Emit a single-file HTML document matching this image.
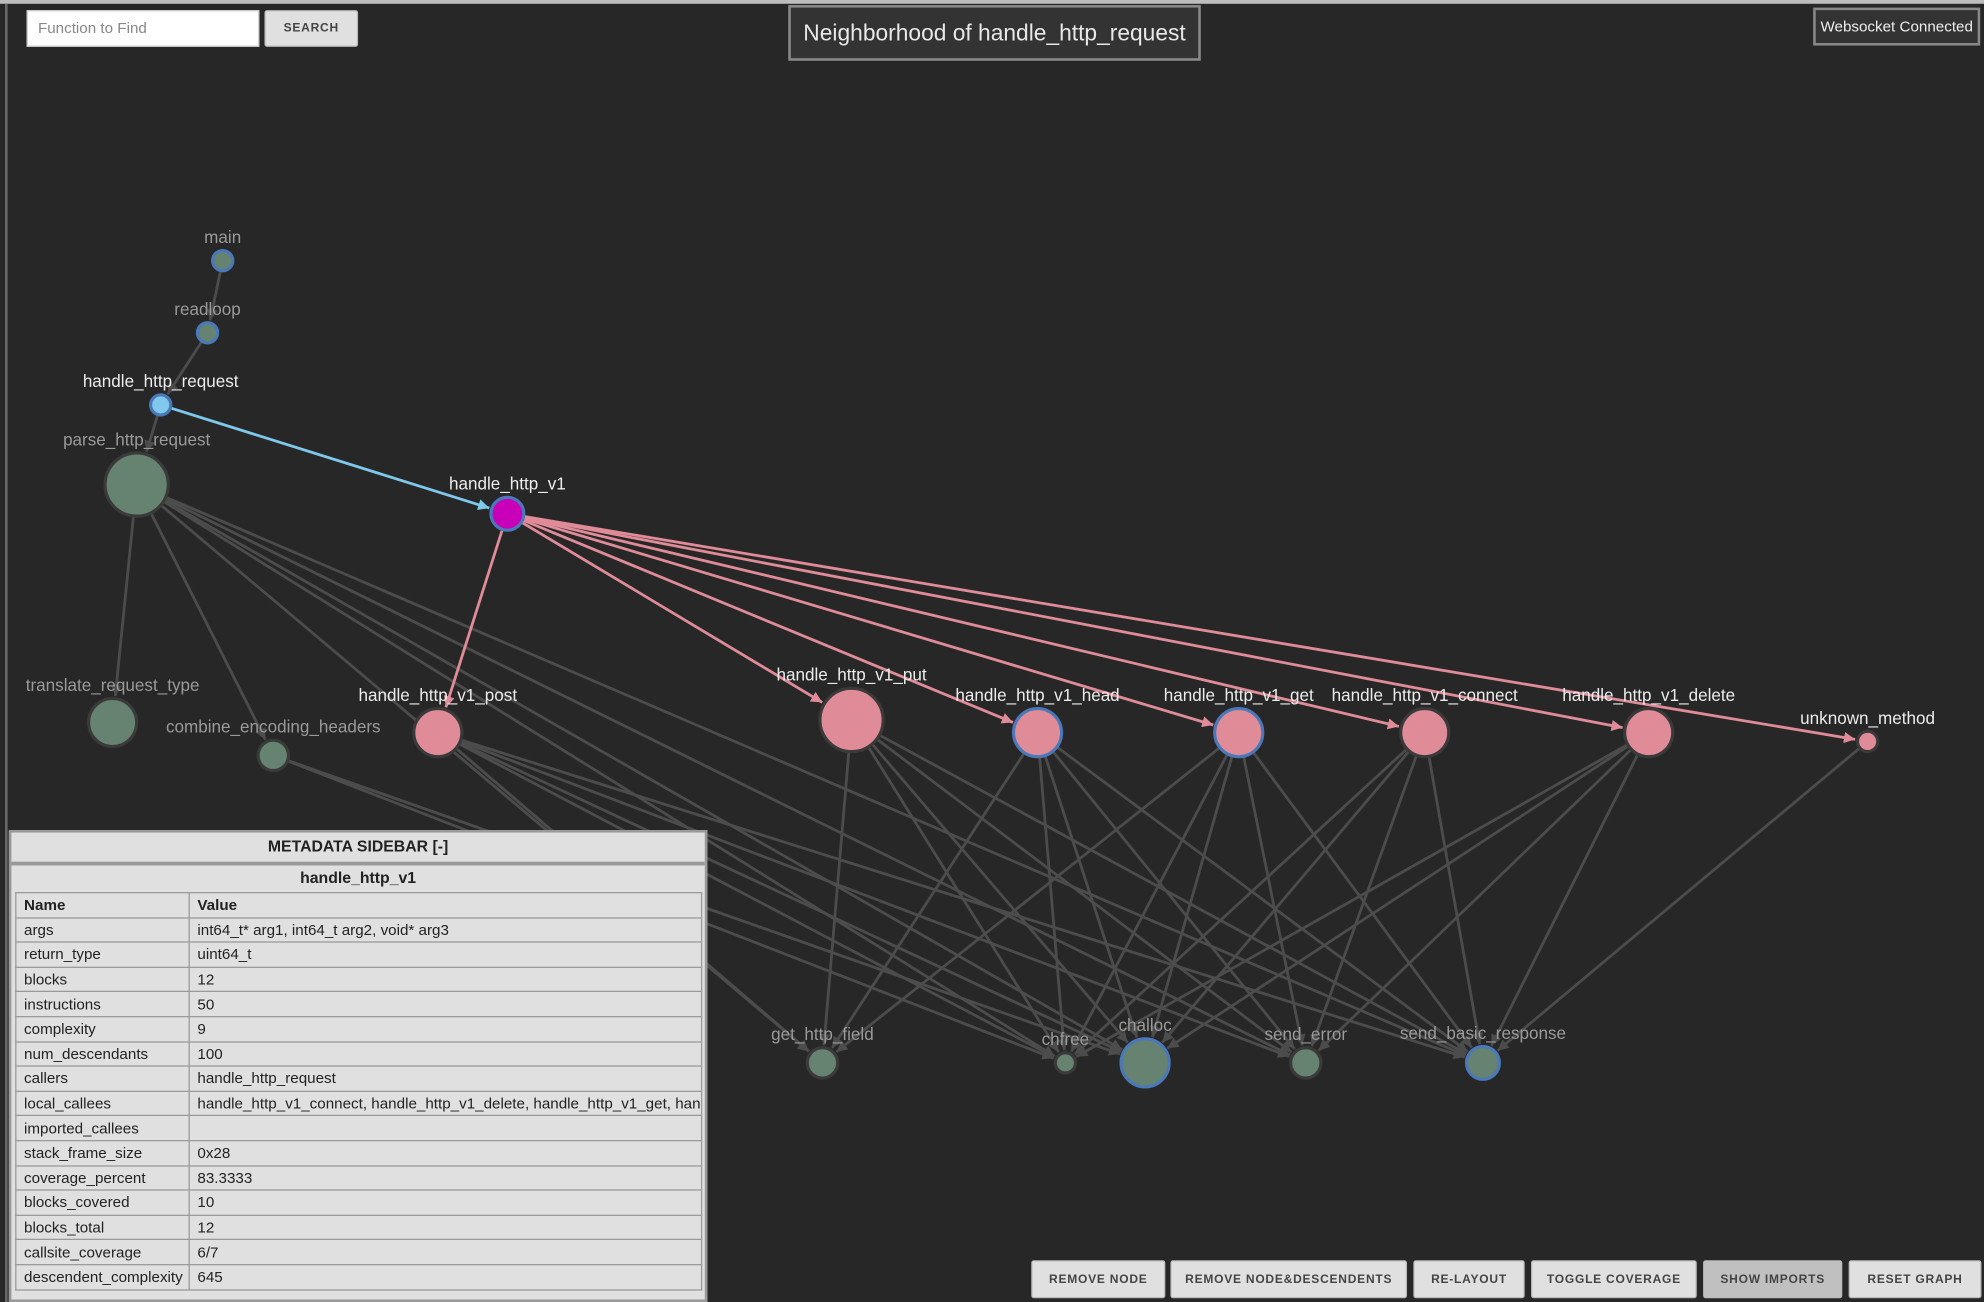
<!DOCTYPE html>
<html><head><meta charset="utf-8">
<style>
html,body{margin:0;padding:0;width:1984px;height:1302px;overflow:hidden;background:#272727;font-family:"Liberation Sans",sans-serif;}
#wrap{position:absolute;left:0;top:0;width:1568px;height:1029px;transform:scale(1.265306);transform-origin:0 0;background:#272727;}
#topline{position:absolute;left:0;top:0;width:1568px;height:3px;background:#bdbdbd;}
#leftline{position:absolute;left:4px;top:3px;width:2px;height:1026px;background:#6a6a6a;}
svg{position:absolute;left:0;top:0;}
.inp{position:absolute;left:21px;top:8px;width:184px;height:29px;background:#fff;border:1px solid #ccc;box-sizing:border-box;font-size:12px;color:#888;padding:6px 8px;}
.btn{position:absolute;background:#e0e0e0;border:1px solid #bbb;border-radius:2px;box-sizing:border-box;font-size:9.5px;font-weight:bold;color:#444;letter-spacing:.6px;display:flex;align-items:center;justify-content:center;}
#title{position:absolute;left:623px;top:4px;width:326px;height:44px;background:#333;border:2px solid #8a8a8a;box-sizing:border-box;color:#e8e8e8;font-size:18px;display:flex;align-items:center;justify-content:center;}
#ws{position:absolute;left:1433px;top:6px;width:132px;height:30px;background:#333;border:2px solid #888;box-sizing:border-box;color:#eee;font-size:12px;display:flex;align-items:center;justify-content:center;}
#side{position:absolute;left:7px;top:656px;width:552px;height:373px;background:#e0e0e0;border:2px solid #999;box-sizing:border-box;overflow:hidden;}
#side .hd{height:23px;border-bottom:3px solid #999;font-weight:bold;font-size:12.5px;color:#222;text-align:center;line-height:23px;}
#side .sub{font-weight:bold;font-size:12.5px;color:#222;text-align:center;height:21px;line-height:21px;}
#side table{border-collapse:collapse;margin-left:3px;width:543px;table-layout:fixed;font-size:12px;color:#222;}
#side td{border:1px solid #999;height:18.6px;padding:0 6px;white-space:nowrap;overflow:hidden;line-height:14px;}
</style></head><body>
<div id="wrap">
<div id="topline"></div>
<div id="leftline"></div>
<svg id="graph" width="1568" height="1029">
<defs>
<marker id="ap" viewBox="0 0 10 10" refX="10" refY="5" markerWidth="4" markerHeight="4" orient="auto"><path d="M0,0L10,5L0,10z" fill="#e08c98"/></marker>
<marker id="ab" viewBox="0 0 10 10" refX="10" refY="5" markerWidth="4" markerHeight="4" orient="auto"><path d="M0,0L10,5L0,10z" fill="#7ec8ec"/></marker>
<marker id="ag" viewBox="0 0 10 10" refX="10" refY="5" markerWidth="4" markerHeight="4" orient="auto"><path d="M0,0L10,5L0,10z" fill="#4c4c4c"/></marker>
</defs>
<g id="edges"></g><g id="nodes"></g>
</svg>
<div class="inp">Function to Find</div>
<div class="btn" style="left:209px;top:8px;width:74px;height:29px;">SEARCH</div>
<div id="title">Neighborhood of handle_http_request</div>
<div id="ws">Websocket Connected</div>
<div id="side">
<div class="hd">METADATA SIDEBAR [-]</div>
<div class="sub">handle_http_v1</div>
<table>
<colgroup><col style="width:137px"><col></colgroup>
<tr><td><b>Name</b></td><td><b>Value</b></td></tr>
<tr><td>args</td><td>int64_t* arg1, int64_t arg2, void* arg3</td></tr>
<tr><td>return_type</td><td>uint64_t</td></tr>
<tr><td>blocks</td><td>12</td></tr>
<tr><td>instructions</td><td>50</td></tr>
<tr><td>complexity</td><td>9</td></tr>
<tr><td>num_descendants</td><td>100</td></tr>
<tr><td>callers</td><td>handle_http_request</td></tr>
<tr><td>local_callees</td><td style="text-overflow:clip">handle_http_v1_connect, handle_http_v1_delete, handle_http_v1_get, handle_http_v1_head</td></tr>
<tr><td>imported_callees</td><td></td></tr>
<tr><td>stack_frame_size</td><td>0x28</td></tr>
<tr><td>coverage_percent</td><td>83.3333</td></tr>
<tr><td>blocks_covered</td><td>10</td></tr>
<tr><td>blocks_total</td><td>12</td></tr>
<tr><td>callsite_coverage</td><td>6/7</td></tr>
<tr><td>descendent_complexity</td><td>645</td></tr>
</table>
</div>
<div class="btn" style="left:815px;top:996px;width:106px;height:30px;">REMOVE NODE</div>
<div class="btn" style="left:925px;top:996px;width:187px;height:30px;">REMOVE NODE&amp;DESCENDENTS</div>
<div class="btn" style="left:1117px;top:996px;width:88px;height:30px;">RE-LAYOUT</div>
<div class="btn" style="left:1210px;top:996px;width:131px;height:30px;">TOGGLE COVERAGE</div>
<div class="btn" style="left:1346px;top:996px;width:110px;height:30px;background:#c0c0c0;">SHOW IMPORTS</div>
<div class="btn" style="left:1461px;top:996px;width:105px;height:30px;">RESET GRAPH</div>
</div>
<script>
const nodeNames=["main","readloop","handle_http_request","parse_http_request","handle_http_v1","translate_request_type","combine_encoding_headers","handle_http_v1_post","handle_http_v1_put","handle_http_v1_head","handle_http_v1_get","handle_http_v1_connect","handle_http_v1_delete","unknown_method","get_http_field","chfree","challoc","send_error","send_basic_response"];
const nodeX=[176,164,127,108,401,89,216,346,673,820,979,1126,1303,1476,650,842,905,1032,1172];
const nodeY=[206,263,320,383,406,571,597,579,569,579,579,579,579,586,840,840,840,840,840];
const nodeR=[8,8,8,25,13,19,12,19,25,19,19,19,19,8,12,8,19,12,13];
const nodeKind=["g","g","sel","g","cur","g","g","p","p","p","p","p","p","p","g","g","g","g","g"];
const nodeBlue=[1,1,1,0,1,0,0,0,0,1,1,0,0,0,0,0,1,0,1];
const edgeFrom=["main","readloop","handle_http_request","parse_http_request","parse_http_request","parse_http_request","parse_http_request","parse_http_request","parse_http_request","parse_http_request","combine_encoding_headers","combine_encoding_headers",
"handle_http_v1_post","handle_http_v1_post","handle_http_v1_post","handle_http_v1_post","handle_http_v1_post",
"handle_http_v1_put","handle_http_v1_put","handle_http_v1_put","handle_http_v1_put","handle_http_v1_put",
"handle_http_v1_head","handle_http_v1_head","handle_http_v1_head","handle_http_v1_head","handle_http_v1_head",
"handle_http_v1_get","handle_http_v1_get","handle_http_v1_get","handle_http_v1_get","handle_http_v1_get",
"handle_http_v1_connect","handle_http_v1_connect","handle_http_v1_connect","handle_http_v1_connect",
"handle_http_v1_delete","handle_http_v1_delete","handle_http_v1_delete","handle_http_v1_delete",
"unknown_method","handle_http_request",
"handle_http_v1","handle_http_v1","handle_http_v1","handle_http_v1","handle_http_v1","handle_http_v1","handle_http_v1"];
const edgeTo=["readloop","handle_http_request","parse_http_request","translate_request_type","combine_encoding_headers","get_http_field","chfree","challoc","send_error","send_basic_response","challoc","chfree",
"get_http_field","chfree","challoc","send_error","send_basic_response",
"get_http_field","chfree","challoc","send_error","send_basic_response",
"get_http_field","chfree","challoc","send_error","send_basic_response",
"get_http_field","chfree","challoc","send_error","send_basic_response",
"chfree","challoc","send_error","send_basic_response",
"chfree","challoc","send_error","send_basic_response",
"send_basic_response","handle_http_v1",
"handle_http_v1_post","handle_http_v1_put","handle_http_v1_head","handle_http_v1_get","handle_http_v1_connect","handle_http_v1_delete","unknown_method"];
const NS="http://www.w3.org/2000/svg";
const eg=document.getElementById('edges'),ng=document.getElementById('nodes');
function idx(n){return nodeNames.indexOf(n);}
for(let k=0;k<edgeFrom.length;k++){
  const a=idx(edgeFrom[k]),b=idx(edgeTo[k]);
  const dx=nodeX[b]-nodeX[a],dy=nodeY[b]-nodeY[a],d=Math.hypot(dx,dy);
  const x1=nodeX[a]+dx/d*nodeR[a],y1=nodeY[a]+dy/d*nodeR[a];
  const x2=nodeX[b]-dx/d*(nodeR[b]+2),y2=nodeY[b]-dy/d*(nodeR[b]+2);
  const l=document.createElementNS(NS,'line');
  
  
  l.setAttribute('x1',x1);l.setAttribute('y1',y1);l.setAttribute('x2',x2);l.setAttribute('y2',y2);
  let c='#4c4c4c',m='ag';
  if(edgeFrom[k]==='handle_http_v1'){c='#e08c98';m='ap';}
  else if(edgeFrom[k]==='handle_http_request'&&edgeTo[k]==='handle_http_v1'){c='#7ec8ec';m='ab';}
  l.setAttribute('stroke',c);l.setAttribute('stroke-width','2.2');l.setAttribute('marker-end','url(#'+m+')');
  eg.appendChild(l);
}
const fills={g:'#668270',p:'#e08c98',sel:'#80c8ec',cur:'#c800b8'};
for(let i=0;i<nodeNames.length;i++){
  const c=document.createElementNS(NS,'circle');
  
  
  c.setAttribute('cx',nodeX[i]);c.setAttribute('cy',nodeY[i]);c.setAttribute('r',nodeR[i]);
  c.setAttribute('fill',fills[nodeKind[i]]);
  c.setAttribute('stroke',nodeBlue[i]?'#4a78b8':'#3a3a3a');c.setAttribute('stroke-width','2.5');
  ng.appendChild(c);
  const t=document.createElementNS(NS,'text');
  
  
  t.setAttribute('x',nodeX[i]);t.setAttribute('y',nodeY[i]-nodeR[i]-6);
  t.setAttribute('text-anchor','middle');t.setAttribute('font-size','13.5');
  t.setAttribute('font-family','Liberation Sans, sans-serif');
  t.setAttribute('fill',nodeKind[i]==='g'?'#9a9a9a':'#ececec');
  t.textContent=nodeNames[i];
  ng.appendChild(t);
}
</script>
</body></html>
